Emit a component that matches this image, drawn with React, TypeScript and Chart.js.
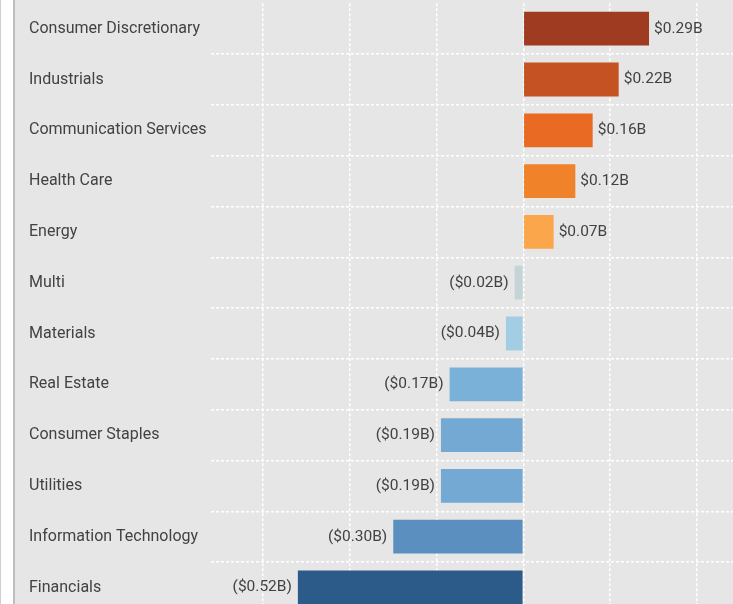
import React, { useEffect, useRef } from "react";
import { Chart, registerables } from "chart.js";

Chart.register(...registerables);

const categories = [
  "Consumer Discretionary",
  "Industrials",
  "Communication Services",
  "Health Care",
  "Energy",
  "Multi",
  "Materials",
  "Real Estate",
  "Consumer Staples",
  "Utilities",
  "Information Technology",
  "Financials",
];

const values = [0.29, 0.22, 0.16, 0.12, 0.07, -0.02, -0.04, -0.17, -0.19, -0.19, -0.3, -0.52];

const barColors = [
  "#9e3b20",
  "#c45223",
  "#e86a23",
  "#f0822a",
  "#fba64a",
  "#c5d4d6",
  "#a2cde3",
  "#7ab1d8",
  "#74a9d4",
  "#74a9d4",
  "#5b8fbf",
  "#2c5b8a",
];

const gridTicks = [-0.6, -0.4, -0.2, 0, 0.2, 0.4];

const FONT = "Roboto, 'DejaVu Sans', sans-serif";

function fmt(v: number): string {
  return v >= 0 ? `$${v.toFixed(2)}B` : `($${(-v).toFixed(2)}B)`;
}

const valueLabels = {
  id: "valueLabels",
  afterDatasetsDraw(chart: any) {
    const ctx = chart.ctx;
    const meta = chart.getDatasetMeta(0);
    ctx.save();
    ctx.font = `15.5px ${FONT}`;
    ctx.fillStyle = "#424242";
    ctx.textBaseline = "middle";
    meta.data.forEach((bar: any, i: number) => {
      const v = values[i];
      if (v >= 0) {
        ctx.textAlign = "left";
        ctx.fillText(fmt(v), bar.x + 5, bar.y);
      } else {
        ctx.textAlign = "right";
        ctx.fillText(fmt(v), bar.x - 6, bar.y);
      }
    });
    ctx.restore();
  },
};

export default function App() {
  const ref = useRef<HTMLCanvasElement | null>(null);

  useEffect(() => {
    document.body.style.margin = "0";
    const canvas = ref.current!;
    const chart = new Chart(canvas, {
      type: "bar",
      data: {
        labels: categories,
        datasets: [
          {
            data: values,
            backgroundColor: barColors,
            borderWidth: 0,
            categoryPercentage: 1,
            barPercentage: 0.665,
          },
        ],
      },
      plugins: [valueLabels],
      options: {
        indexAxis: "y",
        animation: false,
        responsive: false,
        maintainAspectRatio: false,
        devicePixelRatio: 1,
        layout: { padding: { top: 3.3, bottom: 7.1, left: 14, right: 0 } },
        plugins: {
          legend: { display: false },
          tooltip: { enabled: false },
        },
        scales: {
          x: {
            type: "linear",
            min: -0.7204,
            max: 0.4837,
            afterBuildTicks: (scale: any) => {
              scale.ticks = gridTicks.map((v) => ({ value: v }));
            },
            afterFit: (scale: any) => {
              scale.height = 0;
              scale.paddingLeft = 0;
              scale.paddingRight = 0;
            },
            ticks: { display: false },
            border: { display: false, dash: [3, 2] },
            grid: {
              color: "#ffffff",
              lineWidth: 1.5,
              drawTicks: false,
            },
          },
          y: {
            afterFit: (scale: any) => {
              scale.width = 182;
              scale.paddingTop = 0;
              scale.paddingBottom = 0;
            },
            border: { display: false, dash: [3, 2] },
            grid: {
              offset: true,
              drawTicks: false,
              lineWidth: 1.5,
              color: (c: any) => (c.index === 0 ? "rgba(0,0,0,0)" : "#ffffff"),
            },
            ticks: {
              crossAlign: "far",
              padding: 0,
              color: "#424242",
              font: { family: FONT, size: 16 },
            },
          },
        },
      },
    } as any);
    return () => chart.destroy();
  }, []);

  return (
    <div
      style={{
        position: "fixed",
        left: 0,
        top: 0,
        width: 733,
        height: 604,
        overflow: "hidden",
        background: "#ffffff",
      }}
    >
      <div style={{ position: "absolute", left: 0, top: 0, width: 1, height: 604, background: "#cfcfcf" }} />
      <div
        style={{
          position: "absolute",
          left: 13,
          top: 0,
          width: 720,
          height: 604,
          background: "#e6e6e6",
          borderLeft: "2px solid #bdbdbd",
          boxSizing: "border-box",
        }}
      />
      <canvas
        ref={ref}
        width={718}
        height={620}
        style={{ position: "absolute", left: 15, top: 0, width: 718, height: 620 }}
      />
    </div>
  );
}
